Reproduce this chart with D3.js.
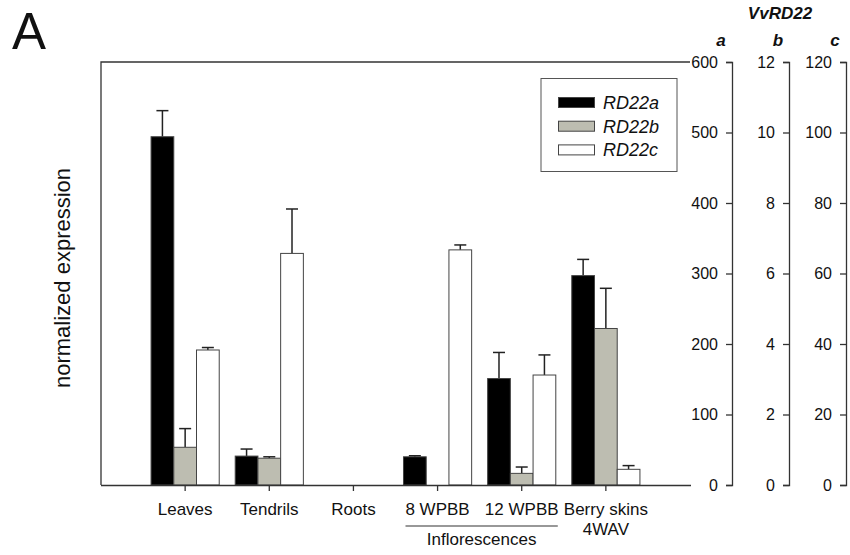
<!DOCTYPE html>
<html>
<head>
<meta charset="utf-8">
<script src="https://cdn.jsdelivr.net/npm/d3@7"></script>
<style>
  body { margin: 0; background: #fff; }
  text { font-family: "Liberation Sans", Arial, sans-serif; fill: #111; }
  .axis path, .axis line { stroke: #333; stroke-width: 1.3; }
  .axis text { font-size: 16px; fill: #111; }
  .xaxis text { font-size: 17px; }
</style>
</head>
<body>
<div id="chart"></div>
<script>
// categories and values
var categories = ["Leaves", "Tendrils", "Roots", "8 WPBB", "12 WPBB", "Berry skins|4WAV"];
var rd22a = [494, 41, 0, 40, 151, 297];
var rd22aErr = [37, 10, 0, 1.5, 37, 23];
var rd22b = [1.07, 0.76, 0, 0, 0.33, 4.44];
var rd22bErr = [0.53, 0.04, 0, 0, 0.18, 1.14];
var rd22c = [38.3, 65.7, 0, 66.7, 31.2, 4.45];
var rd22cErr = [0.7, 12.6, 0, 1.4, 5.7, 1.05];
var seriesNames = ["RD22a", "RD22b", "RD22c"];
var ticksA = [0, 100, 200, 300, 400, 500, 600];
var ticksB = [0, 2, 4, 6, 8, 10, 12];
var ticksC = [0, 20, 40, 60, 80, 100, 120];

var width = 850, height = 555;
var plotLeft = 101, plotRight = 690, plotTop = 62, plotBottom = 485;
var fills = ["#000000", "#bdbdb1", "#ffffff"];

var svg = d3.select("#chart").append("svg")
  .attr("width", width)
  .attr("height", height);

var x = d3.scaleBand()
  .domain(categories)
  .range([plotLeft, plotRight])
  .paddingInner(0.19)
  .paddingOuter(0.595);

var xs = d3.scaleBand()
  .domain(seriesNames)
  .range([0, x.bandwidth()]);

var yA = d3.scaleLinear().domain([0, 600]).range([plotBottom, plotTop]);
var yB = d3.scaleLinear().domain([0, 12]).range([plotBottom, plotTop]);
var yC = d3.scaleLinear().domain([0, 120]).range([plotBottom, plotTop]);

var series = [
  {name: "RD22a", values: rd22a, errs: rd22aErr, y: yA},
  {name: "RD22b", values: rd22b, errs: rd22bErr, y: yB},
  {name: "RD22c", values: rd22c, errs: rd22cErr, y: yC}
];

// frame (left and top)
svg.append("path")
  .attr("d", "M" + plotLeft + "," + plotBottom + "V" + plotTop + "H" + plotRight)
  .attr("fill", "none")
  .attr("stroke", "#333")
  .attr("stroke-width", 1.3);

// bars
series.forEach(function (s, si) {
  var g = svg.append("g");
  categories.forEach(function (c, ci) {
    var v = s.values[ci];
    if (v <= 0) return;
    var bx = x(c) + xs(s.name);
    var bw = xs.bandwidth();
    // error bar above the bar
    var yErr = s.y(v + s.errs[ci]);
    g.append("line")
      .attr("x1", bx + bw / 2).attr("x2", bx + bw / 2)
      .attr("y1", s.y(v)).attr("y2", yErr)
      .attr("stroke", "#222").attr("stroke-width", 1.5);
    g.append("line")
      .attr("x1", bx + bw / 2 - 6).attr("x2", bx + bw / 2 + 6)
      .attr("y1", yErr).attr("y2", yErr)
      .attr("stroke", "#222").attr("stroke-width", 1.5);
    g.append("rect")
      .attr("x", bx)
      .attr("y", s.y(v))
      .attr("width", bw)
      .attr("height", plotBottom - s.y(v))
      .attr("fill", fills[si])
      .attr("stroke", "#444")
      .attr("stroke-width", 1);
  });
});

// x axis
var xAxis = svg.append("g")
  .attr("class", "axis xaxis")
  .attr("transform", "translate(0," + plotBottom + ")")
  .call(d3.axisBottom(x).tickSize(6).tickSizeOuter(0).tickPadding(12));

xAxis.select(".domain").attr("d", "M" + plotLeft + ",0.5H" + (plotRight + 1));

xAxis.selectAll(".tick text").each(function (d) {
  var parts = d.split("|");
  var t = d3.select(this).text(null);
  parts.forEach(function (p, i) {
    t.append("tspan")
      .attr("x", 0)
      .attr("dy", i === 0 ? "0.71em" : "1.2em")
      .text(p);
  });
});
xAxis.selectAll(".tick text").attr("dy", null);

// inflorescences bracket
var infl0 = x("8 WPBB") + 2;
var infl1 = x("12 WPBB") + x.bandwidth() + 2;
svg.append("line")
  .attr("x1", infl0).attr("x2", infl1)
  .attr("y1", 526).attr("y2", 526)
  .attr("stroke", "#333").attr("stroke-width", 1.2);
svg.append("text")
  .attr("x", (infl0 + infl1) / 2)
  .attr("y", 545)
  .attr("text-anchor", "middle")
  .style("font-size", "17px")
  .text("Inflorescences");

// right-hand axes
[[yA, ticksA, 732], [yB, ticksB, 789], [yC, ticksC, 846]].forEach(function (a) {
  svg.append("g")
    .attr("class", "axis")
    .attr("transform", "translate(" + a[2] + ",0)")
    .call(d3.axisLeft(a[0]).tickValues(a[1]).tickSize(6).tickPadding(8));
});

svg.append("text")
  .attr("x", 780).attr("y", 19)
  .attr("text-anchor", "middle")
  .style("font-size", "17px").style("font-weight", "bold").style("font-style", "italic")
  .text("VvRD22");

[["a", 721], ["b", 778], ["c", 835]].forEach(function (l) {
  svg.append("text")
    .attr("x", l[1]).attr("y", 46)
    .attr("text-anchor", "middle")
    .style("font-size", "17px").style("font-weight", "bold").style("font-style", "italic")
    .text(l[0]);
});

// y label
svg.append("text")
  .attr("transform", "translate(70,278) rotate(-90)")
  .attr("text-anchor", "middle")
  .style("font-size", "22px")
  .text("normalized expression");

// panel letter
svg.append("text")
  .attr("x", 12).attr("y", 49)
  .style("font-size", "51px")
  .text("A");

// legend
var legend = svg.append("g");
legend.append("rect")
  .attr("x", 541).attr("y", 78.5)
  .attr("width", 136).attr("height", 93)
  .attr("fill", "#fff")
  .attr("stroke", "#555").attr("stroke-width", 1);

seriesNames.forEach(function (n, i) {
  var ly = 97.5 + i * 23.7;
  legend.append("rect")
    .attr("x", 558.5).attr("y", ly)
    .attr("width", 36).attr("height", 10)
    .attr("fill", fills[i])
    .attr("stroke", "#444").attr("stroke-width", 1);
  legend.append("text")
    .attr("x", 603).attr("y", ly + 11.5)
    .style("font-size", "18px").style("font-style", "italic")
    .text(n);
});
</script>
</body>
</html>
